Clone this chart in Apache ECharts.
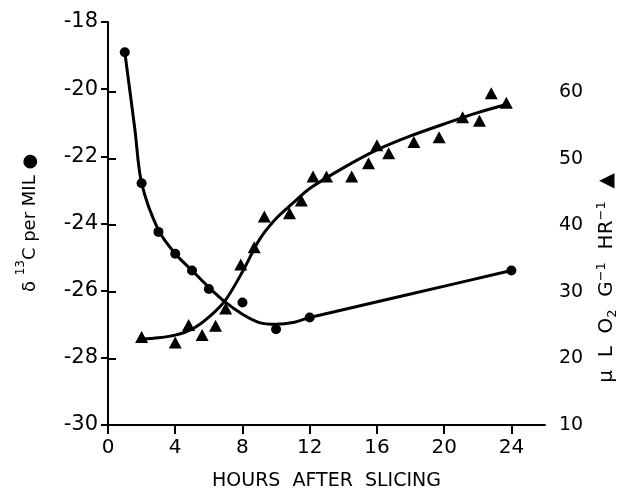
<!DOCTYPE html>
<html>
<head>
<meta charset="utf-8">
<script src="https://cdn.jsdelivr.net/npm/echarts@6/dist/echarts.min.js"></script>
<style>
  html, body { margin: 0; padding: 0; background: #fff; }
  #chart { width: 617px; height: 490px; }
</style>
</head>
<body>
<div id="chart"></div>
<script>
// delta 13C points (left axis) and the hand-drawn curve through them
const carbonHours = [1, 2, 3, 4, 5, 6, 8, 10, 12, 24]
const carbonValues = [-18.9, -22.8, -24.25, -24.9, -25.4, -25.95, -26.35, -27.15, -26.8, -25.4]
const carbonFitHours = [1, 1.6, 2, 3, 4, 5, 6, 7, 8, 9, 10, 11, 12, 18, 24]
const carbonFitValues = [-18.9, -21.2, -22.8, -24.2, -24.9, -25.4, -25.9, -26.35, -26.7, -26.95, -27.0, -26.95, -26.8, -26.1, -25.4]

// O2 uptake points (right axis) and curve
const o2Hours = [2, 4, 4.8, 5.6, 6.4, 7, 7.9, 8.7, 9.3, 10.8, 11.5, 12.2, 13, 14.5, 15.5, 16, 16.7, 18.2, 19.7, 21.1, 22.1, 22.8, 23.7]
const o2Values = [23.2, 22.4, 25.0, 23.5, 24.9, 27.5, 34.1, 36.7, 41.3, 41.8, 43.7, 47.3, 47.3, 47.3, 49.3, 52.0, 50.8, 52.5, 53.2, 56.2, 55.7, 59.8, 58.4]
const o2FitHours = [2, 3, 4, 5, 6, 7, 8, 9, 10, 11, 12, 14, 16, 18, 20, 22, 23.8]
const o2FitValues = [22.9, 23.1, 23.5, 24.4, 26.2, 28.8, 33.0, 37.8, 41.0, 43.3, 45.5, 48.6, 51.3, 53.4, 55.2, 56.9, 58.2]

const hourTicks = [0, 4, 8, 12, 16, 20, 24]

const zip = (xs, ys) => xs.map((x, i) => [x, ys[i]])

const FONT = 'DejaVu Sans'
const INK = '#000'

const chart = echarts.init(document.getElementById('chart'), null, { renderer: 'canvas' })

const baseX = {
  type: 'value',
  min: 0,
  max: 26,
  interval: 4,
  splitLine: { show: false }
}

chart.setOption({
  animation: false,
  backgroundColor: '#fff',
  grid: [
    { left: 108, right: 72, top: 22, bottom: 65, outerBoundsMode: 'none', containLabel: false },
    { left: 108, right: 72, top: 92, bottom: 65, outerBoundsMode: 'none', containLabel: false }
  ],
  xAxis: [
    {
      ...baseX,
      gridIndex: 0,
      name: 'HOURS  AFTER  SLICING',
      nameLocation: 'middle',
      nameGap: 47,
      nameTextStyle: { color: INK, fontFamily: FONT, fontSize: 19 },
      axisLine: { lineStyle: { color: INK, width: 2 } },
      axisTick: { inside: false, length: 9, lineStyle: { color: INK, width: 2 } },
      axisLabel: {
        color: INK, fontFamily: FONT, fontSize: 20, margin: 13,
        showMaxLabel: false,
        formatter: v => (hourTicks.includes(v) ? String(v) : '')
      }
    },
    {
      ...baseX,
      gridIndex: 1,
      show: false
    }
  ],
  yAxis: [
    {
      type: 'value',
      gridIndex: 0,
      position: 'left',
      min: -30,
      max: -18,
      interval: 2,
      splitLine: { show: false },
      axisLine: { show: true, lineStyle: { color: INK, width: 2 } },
      axisTick: { show: true, length: 7, lineStyle: { color: INK, width: 2 } },
      axisLabel: { color: INK, fontFamily: FONT, fontSize: 21, margin: 10 }
    },
    {
      type: 'value',
      gridIndex: 1,
      position: 'right',
      min: 10,
      max: 60,
      interval: 10,
      splitLine: { show: false },
      axisLine: { show: true, lineStyle: { color: INK, width: 2 } },
      axisTick: { show: true, length: 8, lineStyle: { color: INK, width: 2 } },
      axisLabel: { color: INK, fontFamily: FONT, fontSize: 19, margin: 14 }
    }
  ],
  series: [
    {
      type: 'line',
      xAxisIndex: 0, yAxisIndex: 0,
      data: zip(carbonFitHours, carbonFitValues),
      smooth: 0.3,
      showSymbol: false,
      lineStyle: { color: INK, width: 3 },
      z: 2
    },
    {
      type: 'scatter',
      xAxisIndex: 0, yAxisIndex: 0,
      data: zip(carbonHours, carbonValues),
      symbol: 'circle',
      symbolSize: 10,
      itemStyle: { color: INK, opacity: 1 },
      z: 3
    },
    {
      type: 'line',
      xAxisIndex: 1, yAxisIndex: 1,
      data: zip(o2FitHours, o2FitValues),
      smooth: 0.3,
      showSymbol: false,
      lineStyle: { color: INK, width: 3 },
      z: 2
    },
    {
      type: 'scatter',
      xAxisIndex: 1, yAxisIndex: 1,
      data: zip(o2Hours, o2Values),
      symbol: 'triangle',
      symbolSize: [13, 12],
      itemStyle: { color: INK, opacity: 1 },
      z: 3
    }
  ],
  graphic: [
    {
      type: 'text',
      x: 27, y: 223,
      rotation: Math.PI / 2,
      style: {
        text: '{n|δ }{sup|13}{n|C per MIL ●}',
        align: 'center',
        verticalAlign: 'middle',
        fill: INK,
        rich: {
          n: { fontFamily: FONT, fontSize: 18, fill: INK, lineHeight: 24, verticalAlign: 'bottom' },
          sup: { fontFamily: FONT, fontSize: 12, fill: INK, lineHeight: 24, verticalAlign: 'top' }
        }
      }
    },
    {
      type: 'text',
      x: 607, y: 278,
      rotation: Math.PI / 2,
      style: {
        text: '{n|μ  L  O}{sub|2}{n|  G}{sup|−1}{n|  HR}{sup|−1}{n|  ▲}',
        align: 'center',
        verticalAlign: 'middle',
        fill: INK,
        rich: {
          n: { fontFamily: FONT, fontSize: 20, fill: INK, lineHeight: 24, verticalAlign: 'middle' },
          sup: { fontFamily: FONT, fontSize: 13, fill: INK, lineHeight: 24, verticalAlign: 'top' },
          sub: { fontFamily: FONT, fontSize: 13, fill: INK, lineHeight: 24, verticalAlign: 'bottom' }
        }
      }
    }
  ]
})

window.addEventListener('resize', () => chart.resize())
</script>
</body>
</html>
